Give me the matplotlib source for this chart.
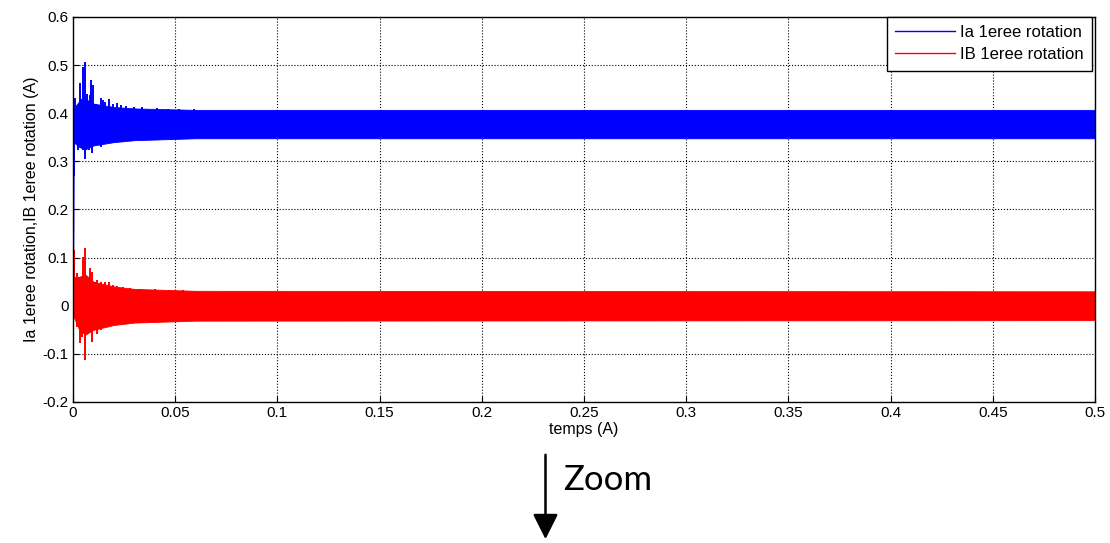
import numpy as np
import matplotlib.pyplot as plt
from matplotlib.patches import FancyArrowPatch

# Ia 1eree rotation : dense band and transient peaks
ia_start_t = [0.0, 0.0003]
ia_start_v = [0.0, 0.27]
ia_mean = 0.377
ia_band_t = [0.0003, 0.003, 0.006, 0.010, 0.020, 0.030, 0.060, 0.5]
ia_band_hi = [0.410, 0.425, 0.430, 0.420, 0.413, 0.410, 0.407, 0.407]
ia_band_lo = [0.340, 0.330, 0.325, 0.333, 0.340, 0.344, 0.348, 0.348]
ia_hi_t = [0.0012, 0.0033, 0.0041, 0.0049, 0.0060, 0.0070, 0.0082, 0.0090, 0.0098, 0.0110,
           0.0124, 0.0135, 0.0147, 0.0158, 0.0175, 0.0195, 0.0217, 0.0236, 0.0260, 0.0300,
           0.0335, 0.0367, 0.0410, 0.0465, 0.0520, 0.0590]
ia_hi = [0.431, 0.462, 0.430, 0.497, 0.507, 0.440, 0.438, 0.470, 0.459, 0.420,
         0.417, 0.431, 0.428, 0.424, 0.429, 0.420, 0.422, 0.417, 0.415, 0.413,
         0.412, 0.409, 0.410, 0.408, 0.409, 0.408]
ia_lo_t = [0.0003, 0.0012, 0.0024, 0.0037, 0.0049, 0.0057, 0.0066, 0.0077, 0.0093, 0.0106,
           0.0125, 0.0139, 0.0158, 0.0180, 0.0210, 0.0245, 0.0280, 0.0330, 0.0400, 0.0480]
ia_lo = [0.270, 0.337, 0.323, 0.330, 0.323, 0.305, 0.335, 0.323, 0.317, 0.335,
         0.337, 0.330, 0.337, 0.340, 0.341, 0.341, 0.342, 0.344, 0.344, 0.345]

# IB 1eree rotation
ib_mean = 0.0
ib_band_t = [0.0, 0.003, 0.006, 0.010, 0.020, 0.030, 0.060, 0.5]
ib_band_hi = [0.060, 0.060, 0.065, 0.050, 0.040, 0.035, 0.031, 0.030]
ib_band_lo = [-0.020, -0.050, -0.060, -0.050, -0.040, -0.035, -0.031, -0.030]
ib_hi_t = [0.0005, 0.0018, 0.0030, 0.0049, 0.0060, 0.0070, 0.0083, 0.0093, 0.0106, 0.0119,
           0.0139, 0.0155, 0.0175, 0.0195, 0.0215, 0.0245, 0.0280, 0.0330, 0.0400, 0.0470,
           0.0540]
ib_hi = [0.116, 0.067, 0.060, 0.102, 0.121, 0.053, 0.078, 0.071, 0.050, 0.053,
         0.050, 0.050, 0.050, 0.043, 0.040, 0.038, 0.037, 0.035, 0.034, 0.032,
         0.032]
ib_lo_t = [0.0008, 0.0020, 0.0033, 0.0044, 0.0060, 0.0070, 0.0093, 0.0106, 0.0119, 0.0139,
           0.0160, 0.0185, 0.0210, 0.0245, 0.0300, 0.0380, 0.0470]
ib_lo = [-0.016, -0.044, -0.078, -0.064, -0.113, -0.051, -0.075, -0.044, -0.058, -0.051,
         -0.044, -0.041, -0.037, -0.035, -0.033, -0.032, -0.031]

xticks = np.arange(0, 0.5001, 0.05)
yticks = np.arange(-0.2, 0.6001, 0.1)
xticklabels = ['0', '0.05', '0.1', '0.15', '0.2', '0.25', '0.3', '0.35', '0.4', '0.45', '0.5']
yticklabels = ['-0.2', '-0.1', '0', '0.1', '0.2', '0.3', '0.4', '0.5', '0.6']

plt.rcParams['font.family'] = ['Liberation Sans', 'DejaVu Sans']

fig = plt.figure(figsize=(11.1, 5.43), dpi=100)
ax = fig.add_axes([0.0658, 0.2597, 0.9207, 0.709])

def trace(color, start_t, start_v, mean, band_t, band_hi, band_lo, hi_t, hi, lo_t, lo, label):
    ax.fill_between(band_t, band_lo, band_hi, color=color, lw=0.6, zorder=2)
    ax.vlines(hi_t, mean, hi, color=color, lw=1.4, zorder=2)
    ax.vlines(lo_t, lo, mean, color=color, lw=1.4, zorder=2)
    if start_t:
        ax.plot(start_t, start_v, color=color, lw=1.3, zorder=2)
    ax.plot([], [], color=color, lw=1, label=label)

trace('#0000ff', ia_start_t, ia_start_v, ia_mean, ia_band_t, ia_band_hi, ia_band_lo,
      ia_hi_t, ia_hi, ia_lo_t, ia_lo, 'Ia 1eree rotation')
trace('#ff0000', None, None, ib_mean, ib_band_t, ib_band_hi, ib_band_lo,
      ib_hi_t, ib_hi, ib_lo_t, ib_lo, 'IB 1eree rotation')

ax.set_xlim(0, 0.5)
ax.set_ylim(-0.2, 0.6)
ax.set_xticks(xticks)
ax.set_yticks(yticks)
ax.set_xticklabels(xticklabels)
ax.set_yticklabels(yticklabels)
ax.tick_params(direction='in', labelsize=11, length=4, pad=3)
ax.grid(True, color='black', ls=':', lw=0.8, zorder=1)
ax.set_axisbelow(True)
for s in ax.spines.values():
    s.set_linewidth(1)
    s.set_zorder(3)

ax.set_xlabel('temps (A)', fontsize=11.5, labelpad=1)
ax.set_ylabel('Ia 1eree rotation,IB 1eree rotation (A)', fontsize=11.5, labelpad=3)

leg = ax.legend(loc='upper right', bbox_to_anchor=(0.997, 1.0), borderaxespad=0,
                fontsize=12, handlelength=3.6, handletextpad=0.3, fancybox=False,
                framealpha=1, edgecolor='black', borderpad=0.5, labelspacing=0.42)
leg.get_frame().set_linewidth(1)
leg.set_zorder(5)

# "Zoom" annotation with arrow below the plot
fig.text(563 / 1110, 1 - 480 / 543, 'Zoom', fontsize=25, family=['Lato', 'DejaVu Sans'],
         va='center', ha='left')
fig.patches.append(FancyArrowPatch(
    (545.5 / 1110, 1 - 452 / 543), (545.5 / 1110, 1 - 542 / 543),
    transform=fig.transFigure, arrowstyle='-|>,head_length=1.1,head_width=0.55',
    mutation_scale=14, color='black', lw=1.8))

fig.savefig('out.png', dpi=100)
